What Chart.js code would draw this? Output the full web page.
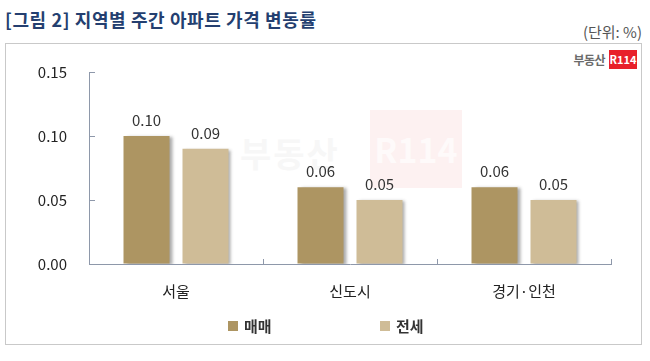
<!DOCTYPE html>
<html>
<head>
<meta charset="utf-8">
<script src="https://cdn.jsdelivr.net/npm/chart.js@4/dist/chart.umd.min.js"></script>
<style>
  html,body{margin:0;padding:0;background:#fff;}
  #wrap{position:relative;width:650px;height:361px;overflow:hidden;font-family:"Noto Sans CJK KR","Noto Sans",sans-serif;}
  #title{position:absolute;left:5px;top:6px;font-size:18px;font-weight:bold;color:#243f70;letter-spacing:0.6px;white-space:nowrap;}
  #unit{position:absolute;right:8px;top:21px;font-size:15px;color:#555;white-space:nowrap;}
  #box{position:absolute;left:5px;top:43px;width:637px;height:302px;border:1px solid #c9c9c9;box-sizing:border-box;}
  #logo{position:absolute;right:13px;top:50px;display:flex;align-items:center;gap:4px;}
  #logo .t{font-size:12px;font-weight:bold;color:#6b6b6b;letter-spacing:-0.5px;}
  #logo .r{background:#e8202a;color:#fff;font-size:11px;font-weight:bold;width:28px;height:19px;line-height:19px;text-align:center;}
  #wm1{position:absolute;left:240px;top:128px;font-size:34px;font-weight:bold;color:#f7f7f7;letter-spacing:2px;}
  #wm2{position:absolute;left:370px;top:110px;width:92px;height:78px;background:#fdf1f1;color:#fefafa;font-size:34px;font-weight:bold;line-height:78px;text-align:center;}
  canvas{position:absolute;left:0;top:0;}
  #legend{position:absolute;top:315px;left:0;width:650px;height:20px;font-size:15px;color:#333;font-weight:bold;}
  #legend .item{position:absolute;display:flex;align-items:center;gap:6px;white-space:nowrap;}
  #legend .sw{width:10px;height:10px;display:inline-block;}
</style>
</head>
<body>
<div id="wrap">
  <div id="title">[그림 2] 지역별 주간 아파트 가격 변동률</div>
  <div id="unit">(단위: %)</div>
  <div id="box"></div>
  <div id="wm1">부동산</div>
  <div id="wm2">R114</div>
  <div id="logo"><span class="t">부동산</span><span class="r">R114</span></div>
  <canvas id="c" width="650" height="361"></canvas>
  <div id="legend"></div>
</div>
<script>
const categories = ['서울', '신도시', '경기·인천'];
const seriesNames = ['매매', '전세'];
const saleValues = [0.10, 0.06, 0.06];
const jeonseValues = [0.09, 0.05, 0.05];
const yTicks = [0.00, 0.05, 0.10, 0.15];
const seriesColors = ['#ad9562', '#cfbc97'];

const FONT = '"Noto Sans CJK KR","Noto Sans",sans-serif';

const shadowPlugin = {
  id: 'barShadow',
  beforeDatasetsDraw(chart) {
    const ctx = chart.ctx;
    ctx.save();
    ctx.shadowColor = 'rgba(70,70,70,0.45)';
    ctx.shadowOffsetX = 3;
    ctx.shadowOffsetY = 1;
    ctx.shadowBlur = 3;
  },
  afterDatasetsDraw(chart) {
    chart.ctx.restore();
  }
};

const valueLabels = {
  id: 'valueLabels',
  afterDatasetsDraw(chart) {
    const ctx = chart.ctx;
    ctx.save();
    ctx.font = '15px ' + FONT;
    ctx.fillStyle = '#333';
    ctx.textAlign = 'center';
    ctx.textBaseline = 'alphabetic';
    chart.data.datasets.forEach((ds, i) => {
      const meta = chart.getDatasetMeta(i);
      meta.data.forEach((bar, j) => {
        ctx.fillText(ds.data[j].toFixed(2), bar.x, bar.y - 10);
      });
    });
    ctx.restore();
  }
};

const chart = new Chart(document.getElementById('c'), {
  type: 'bar',
  data: {
    labels: categories,
    datasets: [
      { label: seriesNames[0], data: saleValues, backgroundColor: seriesColors[0] },
      { label: seriesNames[1], data: jeonseValues, backgroundColor: seriesColors[1] }
    ]
  },
  options: {
    responsive: false,
    animation: false,
    devicePixelRatio: 1,
    categoryPercentage: 0.678,
    barPercentage: 0.78,
    layout: { padding: { left: 5, right: 39, top: 72, bottom: 57 } },
    plugins: {
      legend: { display: false },
      tooltip: { enabled: false }
    },
    scales: {
      x: {
        grid: { drawOnChartArea: false, drawTicks: true, tickLength: -5, color: '#8e98aa', offset: true },
        border: { color: '#8e98aa', width: 1 },
        ticks: { color: '#222', font: { family: FONT, size: 15 }, padding: 23 },
        afterFit(s) { s.height = 40; }
      },
      y: {
        min: 0, max: 0.15,
        grid: { drawOnChartArea: false, drawTicks: true, tickLength: -6, color: '#8e98aa' },
        border: { color: '#8e98aa', width: 1 },
        afterBuildTicks(s) { s.ticks = yTicks.map(v => ({ value: v })); },
        ticks: { color: '#222', font: { family: FONT, size: 15 }, padding: 28,
                 callback: v => Number(v).toFixed(2) },
        afterFit(s) { s.width = 84; }
      }
    }
  },
  plugins: [shadowPlugin, valueLabels]
});

// HTML legend built from series arrays
const legend = document.getElementById('legend');
const legendX = [228, 380];
seriesNames.forEach((n, i) => {
  const it = document.createElement('div');
  it.className = 'item';
  it.style.left = legendX[i] + 'px';
  const sw = document.createElement('span');
  sw.className = 'sw';
  sw.style.background = seriesColors[i];
  const tx = document.createElement('span');
  tx.textContent = n;
  it.appendChild(sw); it.appendChild(tx);
  legend.appendChild(it);
});
</script>
</body>
</html>
